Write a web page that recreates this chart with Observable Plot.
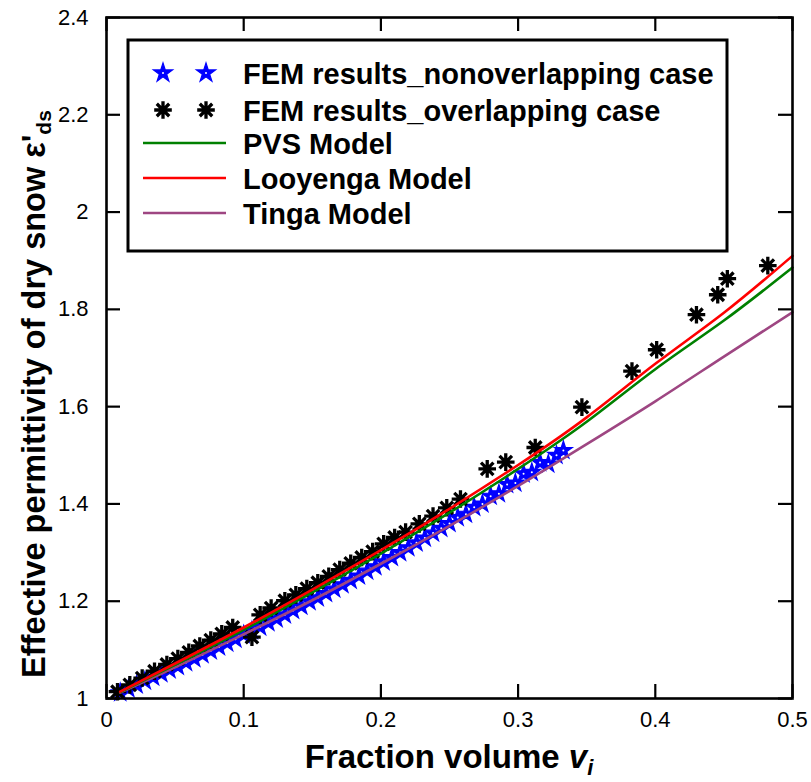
<!DOCTYPE html>
<html><head><meta charset="utf-8">
<script src="https://cdn.jsdelivr.net/npm/d3@7"></script>
<script src="https://cdn.jsdelivr.net/npm/@observablehq/plot@0.6"></script>
<style>
body{margin:0;background:#fff;}
#chart{position:relative;width:811px;height:782px;}
</style></head><body><div id="chart"></div>
<script>
// ---- data ----
const xTicks = [0, 0.1, 0.2, 0.3, 0.4, 0.5];
const yTicks = [1, 1.2, 1.4, 1.6, 1.8, 2, 2.2, 2.4];

const modelX     = [0.01, 0.05, 0.10, 0.15, 0.20, 0.25, 0.30, 0.35, 0.40, 0.45, 0.50];
const pvsY       = [1.013, 1.069, 1.141, 1.218, 1.298, 1.382, 1.472, 1.569, 1.677, 1.777, 1.886];
const looyengaY  = [1.014, 1.072, 1.146, 1.224, 1.305, 1.390, 1.480, 1.578, 1.688, 1.793, 1.910];
const tingaY     = [1.012, 1.064, 1.132, 1.202, 1.277, 1.355, 1.437, 1.523, 1.611, 1.703, 1.794];

const nonoverlapX = [0.010,0.016,0.022,0.028,0.034,0.040,0.046,0.052,0.058,0.064,0.070,0.076,0.082,0.088,0.094,0.100,0.106,0.112,0.118,0.124,0.130,0.136,0.142,0.148,0.154,0.160,0.166,0.172,0.178,0.184,0.190,0.196,0.202,0.208,0.214,0.220,0.226,0.232,0.238,0.244,0.250,0.256,0.262,0.268,0.274,0.280,0.286,0.292,0.298,0.304,0.310,0.316,0.322,0.328,0.333];
const nonoverlapY = [1.012,1.020,1.028,1.036,1.044,1.051,1.059,1.066,1.074,1.082,1.090,1.098,1.106,1.114,1.122,1.131,1.139,1.147,1.156,1.164,1.172,1.181,1.190,1.199,1.207,1.216,1.225,1.234,1.243,1.252,1.262,1.271,1.281,1.290,1.300,1.310,1.320,1.330,1.340,1.350,1.360,1.372,1.379,1.393,1.400,1.416,1.421,1.440,1.443,1.462,1.465,1.485,1.482,1.500,1.510];

const overlapX = [0.008,0.017,0.026,0.035,0.044,0.052,0.060,0.068,0.076,0.084,0.092,0.106,0.112,0.120,0.130,0.138,0.146,0.154,0.162,0.170,0.178,0.186,0.194,0.202,0.210,0.218,0.228,0.238,0.248,0.258,0.2775,0.291,0.3125,0.3465,0.383,0.401,0.430,0.4455,0.4525,0.482];
const overlapY = [1.014,1.028,1.042,1.056,1.070,1.082,1.095,1.108,1.120,1.133,1.146,1.126,1.172,1.186,1.201,1.213,1.226,1.238,1.251,1.265,1.278,1.290,1.302,1.318,1.331,1.342,1.359,1.375,1.392,1.410,1.472,1.486,1.516,1.599,1.673,1.717,1.789,1.830,1.863,1.890];

const seriesNames = ["FEM results_nonoverlapping case","FEM results_overlapping case","PVS Model","Looyenga Model","Tinga Model"];
const colors = {blue:"#0000ff", black:"#000000", green:"#008000", red:"#ff0000", purple:"#9e4682"};

// ---- tables ----
const models = [
  {name:"PVS Model", color:colors.green},
  {name:"Looyenga Model", color:colors.red},
  {name:"Tinga Model", color:colors.purple}
];
const tinga = modelX.map((x,i)=>({x, y:tingaY[i]}));
const pvs = modelX.map((x,i)=>({x, y:pvsY[i]}));
const looy = modelX.map((x,i)=>({x, y:looyengaY[i]}));
const nonov = nonoverlapX.map((x,i)=>({x, y:nonoverlapY[i]}));
const ov = overlapX.map((x,i)=>({x, y:overlapY[i]}));

const asterisk = {draw(ctx, size){
  const r = Math.sqrt(size/Math.PI);
  for (let k=0;k<4;k++){const a=k*Math.PI/4; ctx.moveTo(r*Math.cos(a), r*Math.sin(a)); ctx.lineTo(-r*Math.cos(a), -r*Math.sin(a));}
}};

const W=811, H=782, mL=106, mR=19, mT=17, mB=84;
const innerW = W-mL-mR, innerH = H-mT-mB, tick=14;
const font = "'Liberation Sans', Arial, Helvetica, sans-serif";
const starR = 5.6, astR = 8.8;

const plot = Plot.plot({
  width:W, height:H, marginLeft:mL, marginRight:mR, marginTop:mT, marginBottom:mB,
  style:{fontFamily:font, fontSize:"22px", color:"#000", background:"#fff"},
  x:{domain:[0,0.5]}, y:{domain:[1,2.4]},
  marks:[
    Plot.dot(nonov,{x:"x",y:"y",symbol:"star",r:starR,fill:colors.blue,stroke:colors.blue,strokeWidth:1.2}),
    Plot.dot(nonov,{x:"x",y:"y",r:1,fill:"#fff",stroke:null}),
    Plot.dot(ov,{x:"x",y:"y",symbol:asterisk,r:astR,stroke:"#000",strokeWidth:3.3,fill:"none"}),
    Plot.line(tinga,{x:"x",y:"y",stroke:colors.purple,strokeWidth:2.6,curve:"natural"}),
    Plot.line(pvs,{x:"x",y:"y",stroke:colors.green,strokeWidth:2.6,curve:"natural"}),
    Plot.line(looy,{x:"x",y:"y",stroke:colors.red,strokeWidth:2.6,curve:"natural"}),
    Plot.tickX(xTicks,{x:d=>d,stroke:"#000",strokeWidth:2.2,insetTop:innerH-tick}),
    Plot.tickX(xTicks,{x:d=>d,stroke:"#000",strokeWidth:2.2,insetBottom:innerH-tick}),
    Plot.tickY(yTicks,{y:d=>d,stroke:"#000",strokeWidth:2.2,insetRight:innerW-tick}),
    Plot.tickY(yTicks,{y:d=>d,stroke:"#000",strokeWidth:2.2,insetLeft:innerW-tick}),
    Plot.axisX(xTicks,{tickSize:0,tickPadding:13,tickFormat:d=>String(d),label:null}),
    Plot.axisY(yTicks,{tickSize:0,tickPadding:18,tickFormat:d=>String(d),label:null}),
    Plot.frame({stroke:"#000",strokeWidth:2.6})
  ]
});
document.getElementById("chart").appendChild(plot);

const svg = d3.select(plot);
// x-axis label
const xl = svg.append("text").attr("x",(mL+W-mR)/2).attr("y",768).attr("text-anchor","middle")
  .attr("font-family",font).attr("font-weight","bold").attr("font-size",33).attr("fill","#000");
xl.append("tspan").text("Fraction volume ");
xl.append("tspan").attr("font-style","italic").text("v");
xl.append("tspan").attr("font-style","italic").attr("font-size",22).attr("dy",7).text("i");
// y-axis label
const yl = svg.append("text").attr("transform","translate(45,394) rotate(-90)").attr("text-anchor","middle")
  .attr("font-family",font).attr("font-weight","bold").attr("font-size",32.5).attr("fill","#000");
yl.append("tspan").text("Effective permittivity of dry snow ε'");
yl.append("tspan").attr("font-size",21).attr("dy",6).text("ds");

// legend
const lg = svg.append("g");
lg.append("rect").attr("x",128).attr("y",40).attr("width",599).attr("height",211)
  .attr("fill","#fff").attr("stroke","#000").attr("stroke-width",3);
const rowY = [73,110,143,178,213];
const starPath = d3.symbol(d3.symbolStar, Math.PI*starR*starR*1.15)();
[163,206].forEach(cx=>{
  lg.append("path").attr("d",starPath).attr("transform",`translate(${cx},${rowY[0]})`)
    .attr("fill",colors.blue).attr("stroke",colors.blue).attr("stroke-width",1.2);
  lg.append("circle").attr("cx",cx).attr("cy",rowY[0]).attr("r",1).attr("fill","#fff");
  const p = d3.path(); asterisk.draw(p, Math.PI*astR*astR);
  lg.append("path").attr("d",p.toString()).attr("transform",`translate(${cx},${rowY[1]})`)
    .attr("stroke","#000").attr("stroke-width",3.3).attr("fill","none");
});
models.forEach((m,i)=>{
  lg.append("line").attr("x1",143).attr("x2",226).attr("y1",rowY[i+2]).attr("y2",rowY[i+2])
    .attr("stroke",m.color).attr("stroke-width",2.6);
});
seriesNames.forEach((s,i)=>{
  lg.append("text").attr("x",243).attr("y",rowY[i]+10.5).attr("text-anchor","start").attr("font-family",font)
    .attr("font-weight","bold").attr("font-size",29).attr("fill","#000").text(s);
});
</script></body></html>
